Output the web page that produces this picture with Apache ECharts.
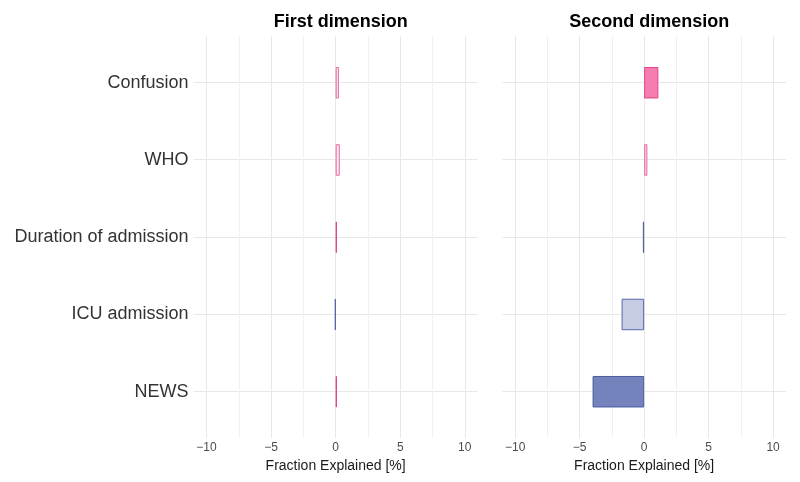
<!DOCTYPE html>
<html>
<head>
<meta charset="utf-8">
<script src="https://cdn.jsdelivr.net/npm/echarts@6/dist/echarts.min.js"></script>
<style>html,body{margin:0;padding:0;background:#fff}#c{width:800px;height:482px}</style>
</head>
<body>
<div id="c"></div>
<script>
// ---- data ----
const categories = ['Confusion', 'WHO', 'Duration of admission', 'ICU admission', 'NEWS'];
const firstDimension = [0.25, 0.32, 0.1, -0.05, 0.1];
const secondDimension = [1.1, 0.25, -0.1, -1.75, -4.0];
const panelTitles = ['First dimension', 'Second dimension'];
const majorTicks = [-10, -5, 0, 5, 10];
const minorTicks = [-7.5, -2.5, 2.5, 7.5];
const axisTitle = 'Fraction Explained [%]';

// ---- styles (per bar fill / border) ----
const fills = [
  ['#fde6f0', '#fde6f0', '#e0498f', '#5566a8', '#e0498f'],
  ['#f57db0', '#fbd0e2', '#5566a8', '#c5cce3', '#7483bc']
];
const borders = [
  ['#e56aa0', '#e56aa0', '#e0448c', '#5263a6', '#e0448c'],
  ['#e04488', '#e86aa3', '#4f60a4', '#5868a8', '#4b5ca0']
];

const FONT = '"Liberation Sans", Arial, Helvetica, sans-serif';
const XMIN = -11, XMAX = 11;
const panels = [{left: 193.6, width: 284.1}, {left: 502.3, width: 283.7}];
const outerTop = 36, outerH = 402;
const innerTop = 44.1, innerH = 386.25;

const grids = [], xAxes = [], yAxes = [], series = [], titles = [];
panels.forEach((p, i) => {
  grids.push({left: p.left, width: p.width, top: outerTop, height: outerH, containLabel: false});
  grids.push({left: p.left, width: p.width, top: innerTop, height: innerH, containLabel: false});
  const gA = i * 2, gB = i * 2 + 1;
  xAxes.push({
    type: 'value', gridIndex: gA, min: XMIN, max: XMAX,
    axisLine: {show: false}, axisTick: {show: false, customValues: majorTicks},
    axisLabel: {show: true, customValues: majorTicks, margin: 4, color: '#4d4d4d', fontSize: 12, fontFamily: FONT,
      formatter: v => String(v).replace('-', '\u2212')},
    splitLine: {show: true, lineStyle: {color: '#e8e8e8', width: 1}},
    name: axisTitle, nameLocation: 'middle', nameGap: 21,
    nameTextStyle: {color: '#1a1a1a', fontSize: 14, fontFamily: FONT}
  });
  xAxes.push({
    type: 'value', gridIndex: gA, min: XMIN, max: XMAX,
    axisLine: {show: false}, axisTick: {show: false, customValues: minorTicks},
    axisLabel: {show: false},
    splitLine: {show: true, lineStyle: {color: '#f1f1f1', width: 1}}
  });
  xAxes.push({type: 'value', gridIndex: gB, min: XMIN, max: XMAX, show: false, splitLine: {show: false}});
  yAxes.push({
    type: 'value', gridIndex: gA, min: -0.6, max: 4.6, inverse: true,
    axisLine: {show: false}, axisTick: {show: false, customValues: [0, 1, 2, 3, 4]},
    axisLabel: {show: false},
    splitLine: {show: true, lineStyle: {color: '#e8e8e8', width: 1}}
  });
  yAxes.push({
    type: 'category', gridIndex: gB, data: categories, inverse: true,
    axisLine: {show: false}, axisTick: {show: false},
    axisLabel: {show: i === 0, margin: 5, color: '#333333', fontSize: 18, fontFamily: FONT},
    splitLine: {show: false}
  });
  const vals = i === 0 ? firstDimension : secondDimension;
  series.push({
    type: 'bar', xAxisIndex: i * 3 + 2, yAxisIndex: i * 2 + 1, barWidth: 31.5, z: 5,
    silent: true,
    data: vals.map((v, k) => ({value: v, itemStyle: {color: fills[i][k], borderColor: borders[i][k], borderWidth: 1}}))
  });
  titles.push({
    text: panelTitles[i], left: p.left + p.width / 2, top: 8, textAlign: 'center',
    textStyle: {fontSize: 18, fontWeight: 'bold', color: '#000', fontFamily: FONT}
  });
});

const chart = echarts.init(document.getElementById('c'), null, {renderer: 'canvas'});
chart.setOption({
  animation: false,
  backgroundColor: '#ffffff',
  title: titles,
  grid: grids,
  xAxis: xAxes,
  yAxis: yAxes,
  series: series
});
</script>
</body>
</html>
